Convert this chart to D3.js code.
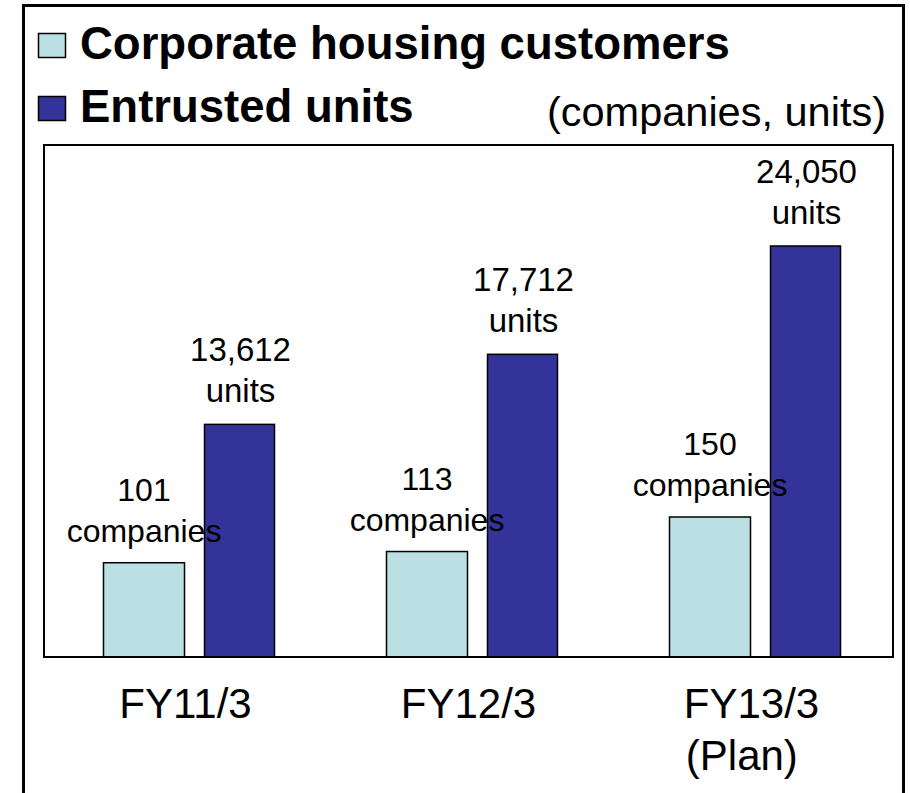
<!DOCTYPE html>
<html>
<head>
<meta charset="utf-8">
<script src="https://cdn.jsdelivr.net/npm/d3@7"></script>
<style>
  body { margin: 0; background: #fff; }
  svg text { font-family: "Liberation Sans", Arial, sans-serif; }
</style>
</head>
<body>
<svg></svg>
<script>
let categories = ['FY11/3', 'FY12/3', 'FY13/3']
let categorySub = ['', '', '(Plan)']
let companies = [101, 113, 150]
let units = [13612, 17712, 24050]
let seriesNames = ['Corporate housing customers', 'Entrusted units']

let w = 910
let h = 793
let plot = { left: 44, right: 893, top: 145, bottom: 657 }
let lightColor = '#bbe0e3'
let darkColor = '#333399'

let svg = d3.select('svg')
    .attr('width', w)
    .attr('height', h)

// outer frame (bottom edge runs off the picture)
svg.append('rect')
    .attr('x', 23.5)
    .attr('y', 5.5)
    .attr('width', 880)
    .attr('height', 820)
    .attr('fill', 'none')
    .attr('stroke', '#000')
    .attr('stroke-width', 3)

let xScale = d3.scaleBand()
    .domain(categories)
    .range([plot.left, plot.right])

let yCompanies = d3.scaleLinear()
    .domain([0, 150])
    .range([plot.bottom, 517])

let yUnits = d3.scaleLinear()
    .domain([0, 24050])
    .range([plot.bottom, 246])

// plot box
svg.append('rect')
    .attr('x', plot.left)
    .attr('y', plot.top)
    .attr('width', plot.right - plot.left)
    .attr('height', plot.bottom - plot.top)
    .attr('fill', 'none')
    .attr('stroke', '#000')
    .attr('stroke-width', 2)

let rows = categories.map((c, i) => ({ cat: c, sub: categorySub[i], companies: companies[i], units: units[i] }))

let compW = 81
let unitW = 70
let compX = (d) => xScale(d.cat) + xScale.bandwidth() / 2 - 82
let unitX = (d) => xScale(d.cat) + xScale.bandwidth() / 2 + 19

svg.selectAll('.bar-comp')
    .data(rows)
    .enter()
    .append('rect')
    .attr('class', 'bar-comp')
    .attr('x', compX)
    .attr('y', (d) => yCompanies(d.companies))
    .attr('width', compW)
    .attr('height', (d) => plot.bottom - yCompanies(d.companies))
    .attr('fill', lightColor)
    .attr('stroke', '#000')
    .attr('stroke-width', 1.5)

svg.selectAll('.bar-unit')
    .data(rows)
    .enter()
    .append('rect')
    .attr('class', 'bar-unit')
    .attr('x', unitX)
    .attr('y', (d) => yUnits(d.units))
    .attr('width', unitW)
    .attr('height', (d) => plot.bottom - yUnits(d.units))
    .attr('fill', darkColor)
    .attr('stroke', '#000')
    .attr('stroke-width', 1.5)

// redraw the baseline over the bar bottoms
svg.append('line')
    .attr('x1', plot.left)
    .attr('x2', plot.right)
    .attr('y1', plot.bottom)
    .attr('y2', plot.bottom)
    .attr('stroke', '#000')
    .attr('stroke-width', 2)

let fmt = d3.format(',')

// value labels
let compLabel = svg.selectAll('.lab-comp')
    .data(rows)
    .enter()
    .append('text')
    .attr('class', 'lab-comp')
    .attr('text-anchor', 'middle')
    .attr('font-size', '32px')
    .attr('fill', '#000')
compLabel.append('tspan')
    .attr('x', (d) => compX(d) + compW / 2)
    .attr('y', (d) => yCompanies(d.companies) - 62)
    .text((d) => d.companies)
compLabel.append('tspan')
    .attr('x', (d) => compX(d) + compW / 2)
    .attr('y', (d) => yCompanies(d.companies) - 21)
    .text('companies')

let unitLabel = svg.selectAll('.lab-unit')
    .data(rows)
    .enter()
    .append('text')
    .attr('class', 'lab-unit')
    .attr('text-anchor', 'middle')
    .attr('font-size', '33px')
    .attr('fill', '#000')
unitLabel.append('tspan')
    .attr('x', (d) => unitX(d) + unitW / 2 + 1)
    .attr('y', (d) => yUnits(d.units) - 63)
    .text((d) => fmt(d.units))
unitLabel.append('tspan')
    .attr('x', (d) => unitX(d) + unitW / 2 + 1)
    .attr('y', (d) => yUnits(d.units) - 22)
    .text('units')

// category axis labels
let xAxis = d3.axisBottom(xScale).tickSize(0).tickPadding(0)
let axisG = svg.append('g')
    .attr('transform', 'translate(0,' + plot.bottom + ')')
    .call(xAxis)
axisG.select('.domain').remove()
axisG.selectAll('.tick text')
    .attr('font-family', '"Liberation Sans", Arial, sans-serif')
    .attr('font-size', '42px')
    .attr('fill', '#000')
    .attr('y', 61)
    .attr('dy', null)
axisG.selectAll('.tick').each(function(d, i) {
    if (!categorySub[i]) return
    let t = d3.select(this).select('text')
    let half = t.node().getComputedTextLength() / 2
    d3.select(this).append('text')
        .attr('font-family', '"Liberation Sans", Arial, sans-serif')
        .attr('font-size', '42px')
        .attr('fill', '#000')
        .attr('text-anchor', 'start')
        .attr('x', -half + 2)
        .attr('y', 113)
        .text(categorySub[i])
})

// legend
let legend = svg.append('g')
let legendColors = [lightColor, darkColor]
let legendY = [59, 122]
seriesNames.forEach((name, i) => {
    legend.append('rect')
        .attr('x', 38.5)
        .attr('y', legendY[i] - 25.5)
        .attr('width', 27)
        .attr('height', 24)
        .attr('fill', legendColors[i])
        .attr('stroke', '#000')
        .attr('stroke-width', 1.5)
    legend.append('text')
        .attr('x', 80)
        .attr('y', legendY[i])
        .attr('font-size', '45.5px')
        .attr('font-weight', 'bold')
        .attr('fill', '#000')
        .text(name)
})

svg.append('text')
    .attr('x', 886)
    .attr('y', 126)
    .attr('text-anchor', 'end')
    .attr('font-size', '41.5px')
    .attr('fill', '#000')
    .text('(companies, units)')
</script>
</body>
</html>
